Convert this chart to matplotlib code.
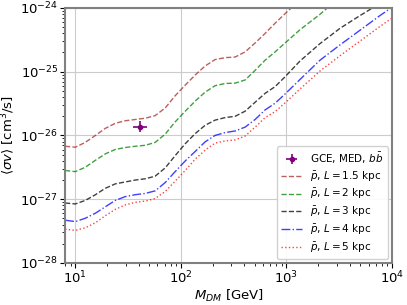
import numpy as np
import matplotlib
matplotlib.use('Agg')
import matplotlib.pyplot as plt

# dark matter mass grid [GeV]
mass = [8, 10, 12.4, 15.5, 19.2, 23.9, 29.7, 37, 46, 57, 71, 88, 110, 137, 170,
        211, 263, 327, 406, 505, 628, 781, 971, 1350, 2080, 3220, 4980, 7700, 10000]

# log10 <sigma v> upper limits from antiprotons, per halo height L
L15 = [-26.17, -26.185, -26.11, -26.00, -25.89, -25.81, -25.77, -25.75, -25.73,
       -25.69, -25.57, -25.38, -25.21, -25.05, -24.91, -24.81, -24.78, -24.77,
       -24.69, -24.55, -24.40, -24.24, -24.09, -23.87, -23.6, -23.3, -23.0,
       -22.7, -22.5]
L2 = [-26.55, -26.568, -26.50, -26.39, -26.29, -26.22, -26.19, -26.17, -26.155,
      -26.11, -25.98, -25.79, -25.62, -25.46, -25.32, -25.22, -25.185, -25.18,
      -25.13, -24.98, -24.82, -24.69, -24.55, -24.34, -24.10, -23.83, -23.5,
      -23.2, -23.0]
L3 = [-27.06, -27.075, -27.02, -26.93, -26.83, -26.76, -26.73, -26.70, -26.68,
      -26.64, -26.51, -26.32, -26.13, -25.97, -25.84, -25.76, -25.72, -25.70,
      -25.62, -25.48, -25.34, -25.235, -25.08, -24.83, -24.56, -24.32, -24.12,
      -23.93, -23.8]
L4 = [-27.33, -27.352, -27.30, -27.22, -27.12, -27.02, -26.96, -26.93, -26.91,
      -26.87, -26.74, -26.57, -26.40, -26.25, -26.10, -26.00, -25.955, -25.93,
      -25.87, -25.75, -25.60, -25.495, -25.35, -25.12, -24.82, -24.58, -24.35,
      -24.12, -23.99]
L5 = [-27.47, -27.49, -27.45, -27.37, -27.26, -27.16, -27.09, -27.05, -27.03,
      -26.99, -26.88, -26.72, -26.55, -26.37, -26.23, -26.12, -26.086, -26.07,
      -26.01, -25.87, -25.72, -25.627, -25.49, -25.27, -24.99, -24.75, -24.52,
      -24.29, -24.16]

# galactic centre excess best fit point
gce_mass = 40.6
gce_mass_err = [[5.4], [7.0]]
gce_sv = 1.37e-26
gce_sv_err = [[0.22e-26], [0.33e-26]]

curves = [
    (L15, 'brown', '--', r'$\bar{p}$, $L = 1.5$ kpc'),
    (L2, 'green', '--', r'$\bar{p}$, $L = 2$ kpc'),
    (L3, 'black', '--', r'$\bar{p}$, $L = 3$ kpc'),
    (L4, 'blue', '-.', r'$\bar{p}$, $L = 4$ kpc'),
    (L5, 'red', ':', r'$\bar{p}$, $L = 5$ kpc'),
]

fig = plt.figure(figsize=(4.07, 3.05), dpi=100)
ax = fig.add_axes([0.160, 0.138, 0.803, 0.836])

handles = []
eb = ax.errorbar(gce_mass, gce_sv, xerr=gce_mass_err, yerr=gce_sv_err, fmt='o',
                 color='purple', markersize=3, elinewidth=1.2, capsize=0,
                 label=r'GCE, MED, $b\bar{b}$')
handles.append(eb)
for vals, col, ls, lab in curves:
    ln, = ax.plot(mass, 10 ** np.array(vals), color=col, ls=ls, lw=1, alpha=0.75, label=lab)
    handles.append(ln)

ax.set_xscale('log')
ax.set_yscale('log')
ax.set_xlim(8, 1e4)
ax.set_ylim(1e-28, 1e-24)
ax.grid(True, which='major', color='0.8', lw=0.8)
ax.set_axisbelow(True)
for s in ax.spines.values():
    s.set_color('0.5')
    s.set_linewidth(1.5)

ax.set_xlabel(r'$M_{DM}$ [GeV]', fontsize=9.5, labelpad=1)
ax.set_ylabel(r'$\langle \sigma v \rangle$ [cm$^3$/s]', fontsize=9.5, labelpad=2)
ax.tick_params(which='major', labelsize=9.5, length=3.5, pad=1.5)
ax.tick_params(which='minor', length=2)
ax.legend(handles=handles, loc='lower right', fontsize=7.5, labelspacing=0.35,
          framealpha=0.9, borderaxespad=0.4)

plt.savefig('out.png', dpi=100)
